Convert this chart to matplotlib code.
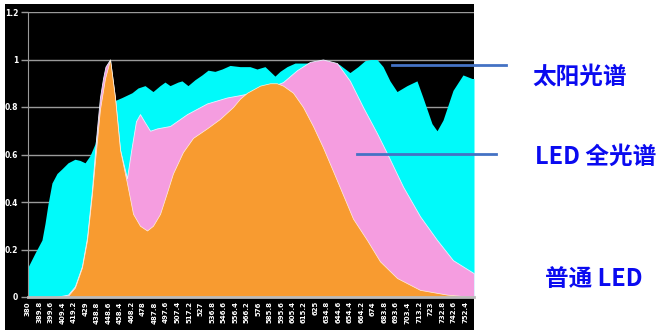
import matplotlib
matplotlib.use("Agg")
from matplotlib import pyplot as plt
from matplotlib.patches import Rectangle
from matplotlib.lines import Line2D

plt.rcParams['font.family'] = ['Noto Sans CJK SC', 'DejaVu Sans']

# x tick labels (wavelength, nm)
tick_wl = [380 + 9.8 * i for i in range(39)]
tick_labels = [('%.1f' % t).rstrip('0').rstrip('.') for t in tick_wl]

# sunlight spectrum
sun_wl = [380, 386, 391.9, 394.5, 397, 400.4, 404.7, 409, 414.1, 420, 424.3, 428.6, 432.8,
          437.1, 438.8, 441.3, 460.1, 468.6, 473.7, 479.7, 486.5, 492.5, 496.7, 501, 507.8,
          511.2, 516.3, 522.3, 528.2, 533.4, 539.3, 545.3, 552.1, 560.6, 569.1, 575.1, 581.9,
          586.2, 590.4, 594.7, 600.7, 607.5, 613.4, 630, 645, 654.3, 661.2, 667.1, 672,
          677.3, 682.5, 688.4, 694.4, 702.9, 711.4, 716.5, 724.2, 728.5, 733.6, 742.1,
          750.6, 758.3, 760]
sun_val = [0.126, 0.185, 0.24, 0.31, 0.39, 0.48, 0.52, 0.54, 0.565, 0.58, 0.575, 0.565, 0.595,
           0.645, 0.70, 0.80, 0.84, 0.86, 0.88, 0.89, 0.865, 0.89, 0.905, 0.89, 0.905,
           0.91, 0.89, 0.915, 0.935, 0.955, 0.95, 0.96, 0.975, 0.97, 0.97, 0.96, 0.97,
           0.95, 0.93, 0.95, 0.97, 0.985, 0.985, 0.985, 0.98, 0.945, 0.97, 0.995, 1.0,
           1.0, 0.97, 0.91, 0.865, 0.89, 0.91, 0.84, 0.73, 0.70, 0.745, 0.87,
           0.935, 0.92, 0.92]

# full spectrum LED
pink_wl = [380, 400, 405.6, 414.1, 420, 426, 430.3, 434.5, 437.1, 438.8, 441.3, 443.9, 446,
           449.9, 454.1, 458.4, 464.3, 468, 472, 475.4, 479, 484, 490, 501, 515.5, 532.5,
           549.5, 560.6, 580, 597.3, 609.2, 620.3, 631.3, 643.3, 654.3, 665.4, 677.3, 685.9,
           699.5, 714, 728.5, 742.1, 758.3, 760]
pink_val = [0, 0, 0.002, 0.01, 0.045, 0.13, 0.25, 0.45, 0.61, 0.71, 0.84, 0.92, 0.97,
            1.0, 0.84, 0.62, 0.50, 0.62, 0.74, 0.77, 0.74, 0.70, 0.71, 0.72, 0.77, 0.815,
            0.84, 0.85, 0.87, 0.905, 0.955, 0.99, 1.0, 0.985, 0.91, 0.80, 0.69, 0.605,
            0.465, 0.34, 0.24, 0.155, 0.105, 0.10]

# ordinary LED
orange_wl = [380, 400, 405.6, 414.1, 420, 426, 430.3, 434.5, 437.1, 438.8, 441.3, 445.6,
             449.9, 454.1, 458.4, 464.3, 469.5, 475.4, 481.4, 486.5, 492.5, 498.4, 503.5,
             512, 520.6, 532.5, 543.6, 554.7, 560.6, 566.6, 577.7, 586.2, 592, 597.3, 605.8,
             614.3, 622.8, 631.3, 639.9, 648.4, 656.9, 668.8, 679.9, 694.4, 714, 737, 760]
orange_val = [0, 0, 0.0, 0.005, 0.04, 0.125, 0.24, 0.435, 0.575, 0.66, 0.79, 0.92,
              1.0, 0.84, 0.62, 0.48, 0.35, 0.30, 0.28, 0.30, 0.35, 0.44, 0.52,
              0.61, 0.67, 0.71, 0.75, 0.80, 0.835, 0.86, 0.89, 0.90, 0.90, 0.89, 0.86,
              0.80, 0.72, 0.63, 0.53, 0.43, 0.33, 0.24, 0.15, 0.08, 0.03, 0.01, 0.0]

W, H = 665, 332
fig = plt.figure(figsize=(W / 100, H / 100), dpi=100)
fig.patch.set_facecolor('white')

def fx(px):
    return px / W

def fy(py):
    return 1 - py / H

# black panel behind the chart
fig.patches.append(Rectangle((fx(5), fy(330)), fx(474) - fx(5), fy(4) - fy(330),
                             transform=fig.transFigure, facecolor='black', zorder=-5))

ax = fig.add_axes([fx(28), fy(297), fx(474) - fx(28), fy(12) - fy(297)])
ax.set_facecolor('black')

ax.fill_between(sun_wl, sun_val, color='#00FAFA', lw=0, zorder=2)
ax.fill_between(pink_wl, pink_val, color='#F59DE0', edgecolor='#E8F4FF', lw=0.6, zorder=3)
ax.fill_between(orange_wl, orange_val, color='#F89B30', edgecolor='#FFF2E0', lw=0.5, zorder=4)

ax.set_xlim(380, 760)
ax.set_ylim(0, 1.2)
ax.set_yticks([0, 0.2, 0.4, 0.6, 0.8, 1.0, 1.2])
ax.set_yticklabels(['0', '0.2', '0.4', '0.6', '0.8', '1', '1.2'])
ax.grid(axis='y', color='#9A9A9A', lw=1.0, zorder=1)
ax.set_axisbelow(True)
ax.set_xticks(tick_wl)
ax.set_xticklabels(tick_labels, rotation=90)
ax.tick_params(axis='x', length=0, pad=3, labelsize=5, labelcolor='white')
ax.tick_params(axis='y', length=5, width=1, color='#9A9A9A', pad=2, labelsize=5.5,
               labelcolor='white')
for lab in ax.get_xticklabels() + ax.get_yticklabels():
    lab.set_fontweight('bold')
    lab.set_family('DejaVu Sans')

for s in ['top', 'right']:
    ax.spines[s].set_visible(False)
ax.spines['left'].set_color('#9A9A9A')
ax.spines['bottom'].set_color('#BBBBBB')
ax.spines['bottom'].set_linewidth(2)
ax.spines['bottom'].set_zorder(6)

# annotation lines and labels
fig.lines.append(Line2D([fx(392), fx(506)], [fy(65), fy(65)], color='#4472C4', lw=2,
                        transform=fig.transFigure))
fig.lines.append(Line2D([fx(357), fx(496)], [fy(154), fy(154)], color='#4472C4', lw=2,
                        transform=fig.transFigure))
txt = dict(color='#0A0AF0', fontsize=17, fontweight='bold', ha='center', va='center',
           family=['Noto Sans CJK SC', 'DejaVu Sans'])
fig.text(fx(580), fy(77), '太阳光谱', **txt)
fig.text(fx(596), fy(157), 'LED 全光谱', **txt)
fig.text(fx(594), fy(279), '普通 LED', **txt)

fig.savefig('out.png', dpi=100, facecolor='white')
